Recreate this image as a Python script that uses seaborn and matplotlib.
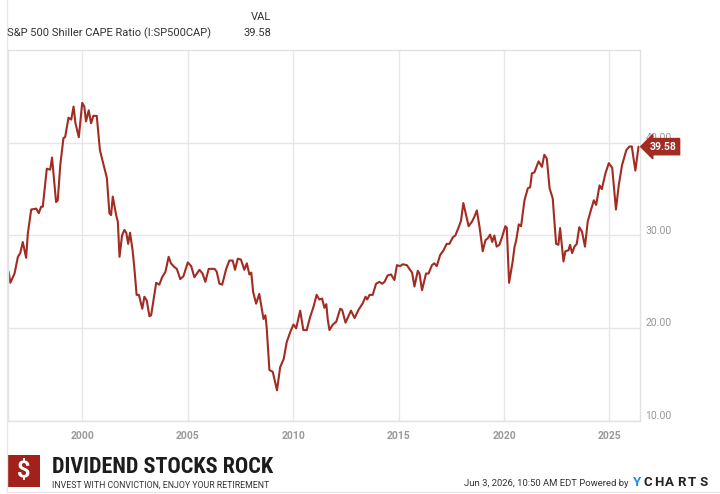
# S&P 500 Shiller CAPE ratio, YCharts-style line chart with a Dividend Stocks Rock footer

import matplotlib
matplotlib.use("Agg")
import pandas as pd
from matplotlib import pyplot as plt
from matplotlib.patches import Rectangle
from matplotlib.lines import Line2D
import seaborn as sb

# values (decimal year, CAPE)
years = [1996.50, 1996.58, 1996.78, 1996.94, 1997.05, 1997.17, 1997.33, 1997.41, 1997.57, 1997.81,
         1997.93, 1998.04, 1998.12, 1998.31, 1998.47, 1998.56, 1998.75, 1998.83, 1998.95, 1999.10,
         1999.18, 1999.34, 1999.47, 1999.58, 1999.67, 1999.83, 1999.99, 2000.09, 2000.17, 2000.30,
         2000.41, 2000.52, 2000.68, 2000.83, 2001.05, 2001.16, 2001.28, 2001.36, 2001.44, 2001.60,
         2001.68, 2001.76, 2001.88, 2001.99, 2002.08, 2002.17, 2002.26, 2002.38, 2002.46, 2002.57,
         2002.68, 2002.84, 2002.94, 2003.05, 2003.18, 2003.26, 2003.50, 2003.65, 2003.78, 2003.94,
         2004.09, 2004.20, 2004.36, 2004.48, 2004.64, 2004.79, 2005.00, 2005.16, 2005.31, 2005.55,
         2005.70, 2005.83, 2005.99, 2006.27, 2006.37, 2006.50, 2006.63, 2006.82, 2006.97, 2007.13,
         2007.24, 2007.37, 2007.52, 2007.68, 2007.80, 2007.92, 2008.01, 2008.10, 2008.24, 2008.39,
         2008.59, 2008.68, 2008.74, 2008.87, 2009.03, 2009.23, 2009.38, 2009.55, 2009.69, 2009.86,
         2010.01, 2010.14, 2010.33, 2010.48, 2010.64, 2010.80, 2010.96, 2011.11, 2011.24, 2011.37,
         2011.48, 2011.57, 2011.64, 2011.72, 2011.88, 2012.04, 2012.23, 2012.32, 2012.48, 2012.58,
         2012.74, 2012.91, 2013.10, 2013.30, 2013.43, 2013.51, 2013.62, 2013.77, 2013.93, 2014.09,
         2014.22, 2014.33, 2014.48, 2014.64, 2014.80, 2014.92, 2015.07, 2015.20, 2015.39, 2015.51,
         2015.64, 2015.75, 2015.91, 2015.99, 2016.11, 2016.30, 2016.42, 2016.58, 2016.69, 2016.81,
         2016.97, 2017.13, 2017.28, 2017.41, 2017.57, 2017.69, 2017.85, 2017.96, 2018.07, 2018.20,
         2018.32, 2018.48, 2018.59, 2018.71, 2018.84, 2018.99, 2019.12, 2019.23, 2019.34, 2019.44,
         2019.54, 2019.65, 2019.78, 2019.91, 2020.06, 2020.13, 2020.24, 2020.41, 2020.50, 2020.58,
         2020.70, 2020.81, 2020.97, 2021.13, 2021.24, 2021.32, 2021.44, 2021.64, 2021.80, 2021.91,
         2022.03, 2022.16, 2022.31, 2022.47, 2022.58, 2022.66, 2022.82, 2022.91, 2023.06, 2023.13,
         2023.23, 2023.34, 2023.45, 2023.57, 2023.70, 2023.84, 2023.97, 2024.13, 2024.26, 2024.37,
         2024.53, 2024.64, 2024.81, 2024.97, 2025.13, 2025.31, 2025.44, 2025.60, 2025.80, 2025.95,
         2026.06, 2026.23, 2026.38]
cape = [26.1, 24.9, 25.9, 27.7, 28.1, 29.3, 27.6, 30.2, 32.8, 32.9,
        32.4, 33.1, 33.1, 37.2, 37.1, 38.4, 33.6, 33.8, 37.6, 40.5,
        40.6, 42.7, 42.5, 43.9, 42.1, 40.6, 44.3, 43.9, 42.3, 43.5,
        42.1, 42.9, 42.9, 39.2, 37.2, 36.2, 32.4, 32.2, 34.2, 32.2,
        31.5, 27.7, 30.0, 30.6, 30.3, 29.1, 30.3, 28.4, 26.6, 23.6,
        23.6, 22.1, 23.4, 23.0, 21.3, 21.4, 24.9, 24.7, 25.5, 26.1,
        27.7, 27.0, 26.6, 26.4, 25.3, 25.6, 27.1, 26.7, 25.5, 26.3,
        25.9, 25.0, 26.4, 26.4, 26.1, 24.8, 24.7, 26.4, 27.3, 27.3,
        26.3, 27.5, 27.4, 26.3, 27.0, 25.8, 26.0, 23.9, 22.65, 23.7,
        21.0, 21.4, 20.1, 15.5, 15.3, 13.3, 15.8, 16.7, 18.5, 19.6,
        20.4, 20.0, 21.9, 19.8, 19.8, 21.2, 22.3, 23.6, 23.1, 23.2,
        22.2, 22.6, 20.9, 19.8, 20.4, 20.7, 22.1, 22.0, 20.6, 21.1,
        21.9, 21.1, 22.0, 22.7, 23.4, 23.1, 23.6, 23.6, 24.8, 25.0,
        24.8, 25.0, 25.7, 25.8, 25.2, 26.8, 26.7, 26.9, 26.8, 26.4,
        26.0, 24.5, 26.2, 25.9, 24.1, 25.9, 25.9, 26.8, 27.0, 26.7,
        27.9, 28.4, 29.1, 29.1, 29.8, 30.0, 30.9, 31.6, 33.5, 32.2,
        31.0, 31.5, 32.0, 32.7, 30.9, 28.3, 29.5, 29.7, 30.1, 29.3,
        30.0, 28.8, 29.0, 29.85, 31.0, 30.85, 24.9, 27.2, 28.8, 29.5,
        31.2, 31.0, 33.8, 35.1, 35.2, 36.7, 36.8, 38.0, 37.4, 38.7,
        38.3, 35.1, 34.0, 29.1, 29.0, 30.8, 27.2, 28.3, 28.4, 29.0,
        28.1, 28.8, 29.1, 30.9, 30.4, 28.8, 31.5, 32.8, 33.8, 33.3,
        35.4, 35.0, 36.7, 37.8, 37.3, 32.8, 35.4, 37.6, 39.2, 39.6,
        39.6, 37.0, 39.58]

x_ticks = [2000, 2005, 2010, 2015, 2020, 2025]
y_ticks = [10, 20, 30, 40]
last_value = 39.58
title = "S&P 500 Shiller CAPE Ratio (I:SP500CAP)"

sb.set_theme(style="white")
plt.rcParams['font.family'] = ['Roboto', 'DejaVu Sans']

line_color = '#a22b22'
grid_color = '#e6e6e6'

fig = plt.figure(figsize=(7.2, 4.94), dpi=100)
ax = fig.add_axes([8/720, 73/494, 632/720, 371/494])

data = pd.DataFrame({'year': years, 'cape': cape})
sb.lineplot(data=data, x='year', y='cape', ax=ax, color=line_color, linewidth=1.5)

ax.set_xlim(1996.47, 2026.45)
ax.set_ylim(10, 50)
ax.set_xticks(x_ticks)
ax.set_xticklabels([str(t) for t in x_ticks])
ax.set_yticks(y_ticks)
ax.set_yticklabels([f"{t:.2f}" for t in y_ticks])
ax.yaxis.tick_right()
ax.set_xlabel('')
ax.set_ylabel('')
ax.tick_params(axis='y', length=0, pad=4, labelsize=7.5, labelcolor='#999999')
ax.tick_params(axis='x', length=0, pad=7, labelsize=7.5, labelcolor='#999999')
plt.setp(ax.get_yticklabels(), va='bottom')
plt.setp(ax.get_xticklabels(), fontweight='bold')
ax.grid(True, color=grid_color, linewidth=1)
for sp in ax.spines.values():
    sp.set_color('#e2e2e2')
    sp.set_linewidth(1)

# last value badge
ax.annotate(f"{last_value:.2f}", xy=(years[-1], cape[-1]), xytext=(8, 0),
            textcoords='offset points', ha='left', va='center', color='white',
            fontsize=7.5, fontweight='bold', annotation_clip=False, zorder=5,
            bbox=dict(boxstyle='larrow,pad=0.3', fc=line_color, ec=line_color))

# header
fig.text(7/720, 1 - 33/494, title, ha='left', va='center', fontsize=8, color='#333333')
fig.text(271/720, 1 - 17/494, 'VAL', ha='right', va='center', fontsize=8, color='#333333')
fig.text(271/720, 1 - 33/494, f"{last_value:.2f}", ha='right', va='center', fontsize=8, color='#333333')

# frame lines
fig.add_artist(Line2D([7/720, 7/720], [2/494, 1], transform=fig.transFigure, color='#e8e8e8', lw=1))
fig.add_artist(Line2D([7/720, 1], [2/494, 2/494], transform=fig.transFigure, color='#e8e8e8', lw=1))

# logo
fig.add_artist(Rectangle((8/720, 1 - 487/494), 32/720, 32/494, transform=fig.transFigure,
                         fc='#a3211b', ec='none'))
fig.text(24/720, 1 - 471/494, '$', ha='center', va='center', color='white', fontsize=17, fontweight='bold')
renderer = fig.canvas.get_renderer()
narrow = ['Roboto Condensed', 'Liberation Sans Narrow', 'DejaVu Sans']
brand = fig.text(52/720, 1 - 467/494, 'DIVIDEND STOCKS ROCK', ha='left', va='center', fontsize=20,
                 fontweight='bold', family=narrow, fontstretch='condensed', color='#1c1c1c')
w = brand.get_window_extent(renderer).width
brand.set_fontsize(20 * 221 / w)
tag = fig.text(52/720, 1 - 485/494, 'INVEST WITH CONVICTION, ENJOY YOUR RETIREMENT', ha='left',
               va='center', fontsize=5, family=['Roboto', 'DejaVu Sans'], color='#333333')
w = tag.get_window_extent(renderer).width
tag.set_fontsize(5 * 221 / w)

# footer right
fig.text(628/720, 1 - 483.5/494, 'Jun 3, 2026, 10:50 AM EDT Powered by', ha='right', va='center',
         fontsize=6.8, color='#333333')
fig.text(637.5/720, 1 - 482.5/494, 'Y', ha='center', va='center', fontsize=9.5, fontweight='bold', color='#1f8ceb')
for ch, cx in zip('CHARTS', [647.6, 658.8, 669.8, 681, 691.8, 703.5]):
    fig.text(cx/720, 1 - 482.5/494, ch, ha='center', va='center', fontsize=9.5, fontweight='bold', color='#222222')

fig.savefig('out.png', dpi=100, facecolor='white')
